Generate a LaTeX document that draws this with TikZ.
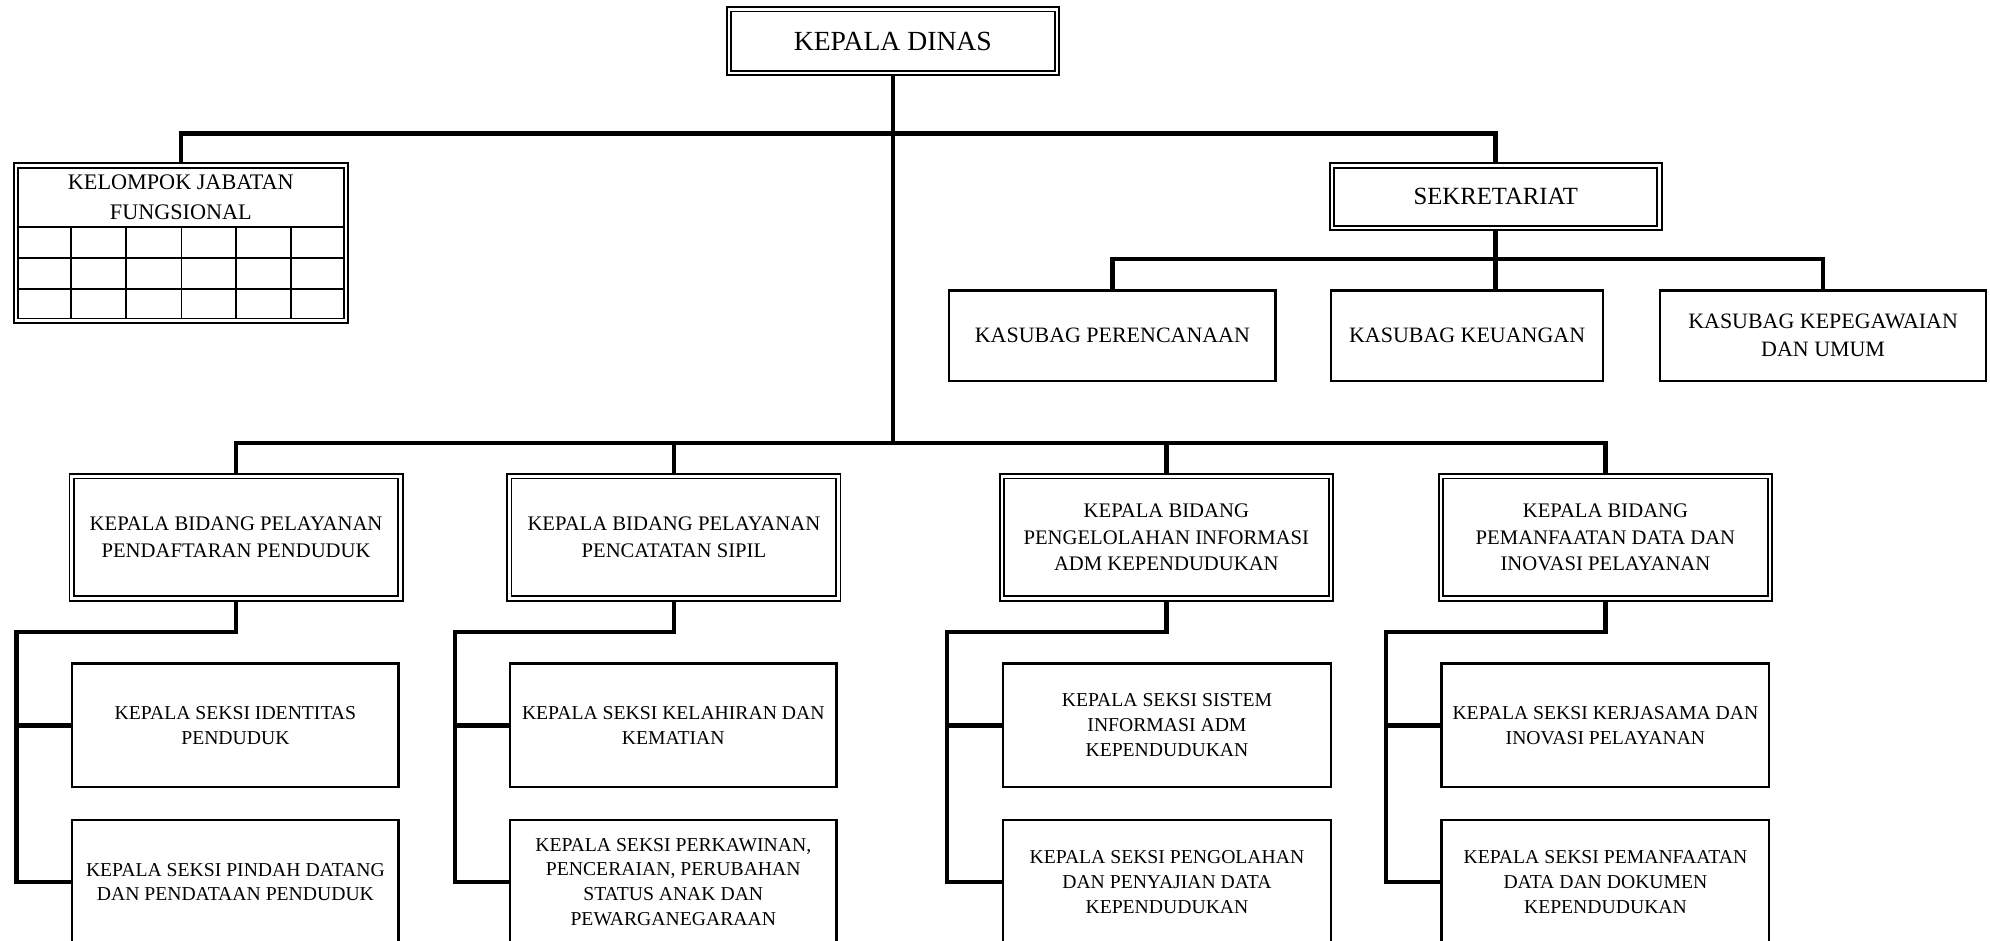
\documentclass[tikz,border=0pt]{standalone}
\usepackage{fontspec}
\setmainfont{Liberation Serif}
\begin{document}
\begin{tikzpicture}[x=1pt,y=-1pt,
  conn/.style={line width=3.6pt, line join=miter},
  gridline/.style={line width=1.5pt},
  dbox/.style={draw, line width=1.5pt, double=white, double distance=1.8pt, inner sep=0pt, outer sep=2.4pt, align=center},
  sbox/.style={draw, line width=1.8pt, inner sep=0pt, outer sep=0.9pt, align=center},
  ftop/.style={font=\fontsize{21.8}{26}\selectfont},
  fsek/.style={font=\fontsize{19.5}{24}\selectfont},
  fkel/.style={font=\fontsize{17.5}{24}\selectfont},
  fsub/.style={font=\fontsize{17.3}{22}\selectfont},
  fbid/.style={font=\fontsize{16.3}{21}\selectfont},
  fsek2/.style={font=\fontsize{15.5}{19.6}\selectfont}
]
\fill[white] (0,0) rectangle (1568,741);
\useasboundingbox (0,0) rectangle (1568,741);

% top level
\node[dbox, ftop, minimum width=258.2pt, minimum height=50.2pt] (kd) at (703.5,32.5) {KEPALA DINAS};

% kelompok jabatan fungsional
\node[dbox, minimum width=260.2pt, minimum height=122.2pt] (kel) at (142.5,191.5) {};
\node[fkel, align=center, inner sep=0pt] (keltitle) at (142.5,155.5) {KELOMPOK JABATAN\\FUNGSIONAL};
\foreach \r in {179,203,228} \draw[gridline] (14.8,\r) -- (270.2,\r);
\foreach \c in {56,99,143,186,229} \draw[gridline] (\c,179) -- (\c,250.2);

% sekretariat
\node[dbox, fsek, minimum width=258.2pt, minimum height=49.2pt] (sek) at (1178.5,155) {SEKRETARIAT};
\node[sbox, fsub, minimum width=257.2pt, minimum height=71.2pt] (per) at (876.5,264.5) {KASUBAG PERENCANAAN};
\node[sbox, fsub, minimum width=214.2pt, minimum height=71.2pt] (keu) at (1156,264.5) {KASUBAG KEUANGAN};
\node[sbox, fsub, minimum width=257.2pt, minimum height=71.2pt] (kep) at (1436.5,264.5) {KASUBAG KEPEGAWAIAN\\DAN UMUM};

% bidang
\node[dbox, fbid, minimum width=259.2pt, minimum height=96.2pt] (b1) at (186,423.5) {KEPALA BIDANG PELAYANAN\\PENDAFTARAN PENDUDUK};
\node[dbox, fbid, minimum width=259.2pt, minimum height=96.2pt] (b2) at (531,423.5) {KEPALA BIDANG PELAYANAN\\PENCATATAN SIPIL};
\node[dbox, fbid, minimum width=259.2pt, minimum height=96.2pt] (b3) at (919,423.5) {KEPALA BIDANG\\PENGELOLAHAN INFORMASI\\ADM KEPENDUDUKAN};
\node[dbox, fbid, minimum width=259.2pt, minimum height=96.2pt] (b4) at (1265,423.5) {KEPALA BIDANG\\PEMANFAATAN DATA DAN\\INOVASI PELAYANAN};

% seksi
\node[sbox, fsek2, minimum width=257.2pt, minimum height=97.2pt] (s11) at (185.5,571.5) {KEPALA SEKSI IDENTITAS\\PENDUDUK};
\node[sbox, fsek2, minimum width=257.2pt, minimum height=98.2pt] (s12) at (185.5,695) {KEPALA SEKSI PINDAH DATANG\\DAN PENDATAAN PENDUDUK};
\node[sbox, fsek2, minimum width=257.2pt, minimum height=97.2pt] (s21) at (530.5,571.5) {KEPALA SEKSI KELAHIRAN DAN\\KEMATIAN};
\node[sbox, fsek2, minimum width=257.2pt, minimum height=98.2pt] (s22) at (530.5,695) {KEPALA SEKSI PERKAWINAN,\\PENCERAIAN, PERUBAHAN\\STATUS ANAK DAN\\PEWARGANEGARAAN};
\node[sbox, fsek2, minimum width=258.2pt, minimum height=97.2pt] (s31) at (919.5,571.5) {KEPALA SEKSI SISTEM\\INFORMASI ADM\\KEPENDUDUKAN};
\node[sbox, fsek2, minimum width=258.2pt, minimum height=98.2pt] (s32) at (919.5,695) {KEPALA SEKSI PENGOLAHAN\\DAN PENYAJIAN DATA\\KEPENDUDUKAN};
\node[sbox, fsek2, minimum width=258.2pt, minimum height=97.2pt] (s41) at (1265,571.5) {KEPALA SEKSI KERJASAMA DAN\\INOVASI PELAYANAN};
\node[sbox, fsek2, minimum width=258.2pt, minimum height=98.2pt] (s42) at (1265,695) {KEPALA SEKSI PEMANFAATAN\\DATA DAN DOKUMEN\\KEPENDUDUKAN};

% bars
\coordinate (bar1) at (0,105);
\coordinate (bar2) at (0,204);
\coordinate (bar3) at (0,349);
\draw[conn] (kd.south) -- (kd.south |- bar3);
\draw[conn] (kel.north) -- (kel.north |- bar1) -- (sek.north |- bar1) -- (sek.north);
\draw[conn] (sek.south) -- (sek.south |- keu.north);
\draw[conn] (per.north) -- (per.north |- bar2) -- (kep.north |- bar2) -- (kep.north);
\draw[conn] (b1.north) -- (b1.north |- bar3) -- (b4.north |- bar3) -- (b4.north);
\draw[conn] (b2.north) -- (b2.north |- bar3);
\draw[conn] (b3.north) -- (b3.north |- bar3);

% group connectors
\coordinate (e1) at (13,498);
\coordinate (e2) at (358.5,498);
\coordinate (e3) at (746,498);
\coordinate (e4) at (1092,498);
\foreach \g in {1,2,3,4} {
  \draw[conn] (b\g.south) -- (b\g.south |- e\g) -- (e\g) -- (e\g |- s\g2.west) -- (s\g2.west);
  \draw[conn] (e\g |- s\g1.west) -- (s\g1.west);
}
\end{tikzpicture}
\end{document}
